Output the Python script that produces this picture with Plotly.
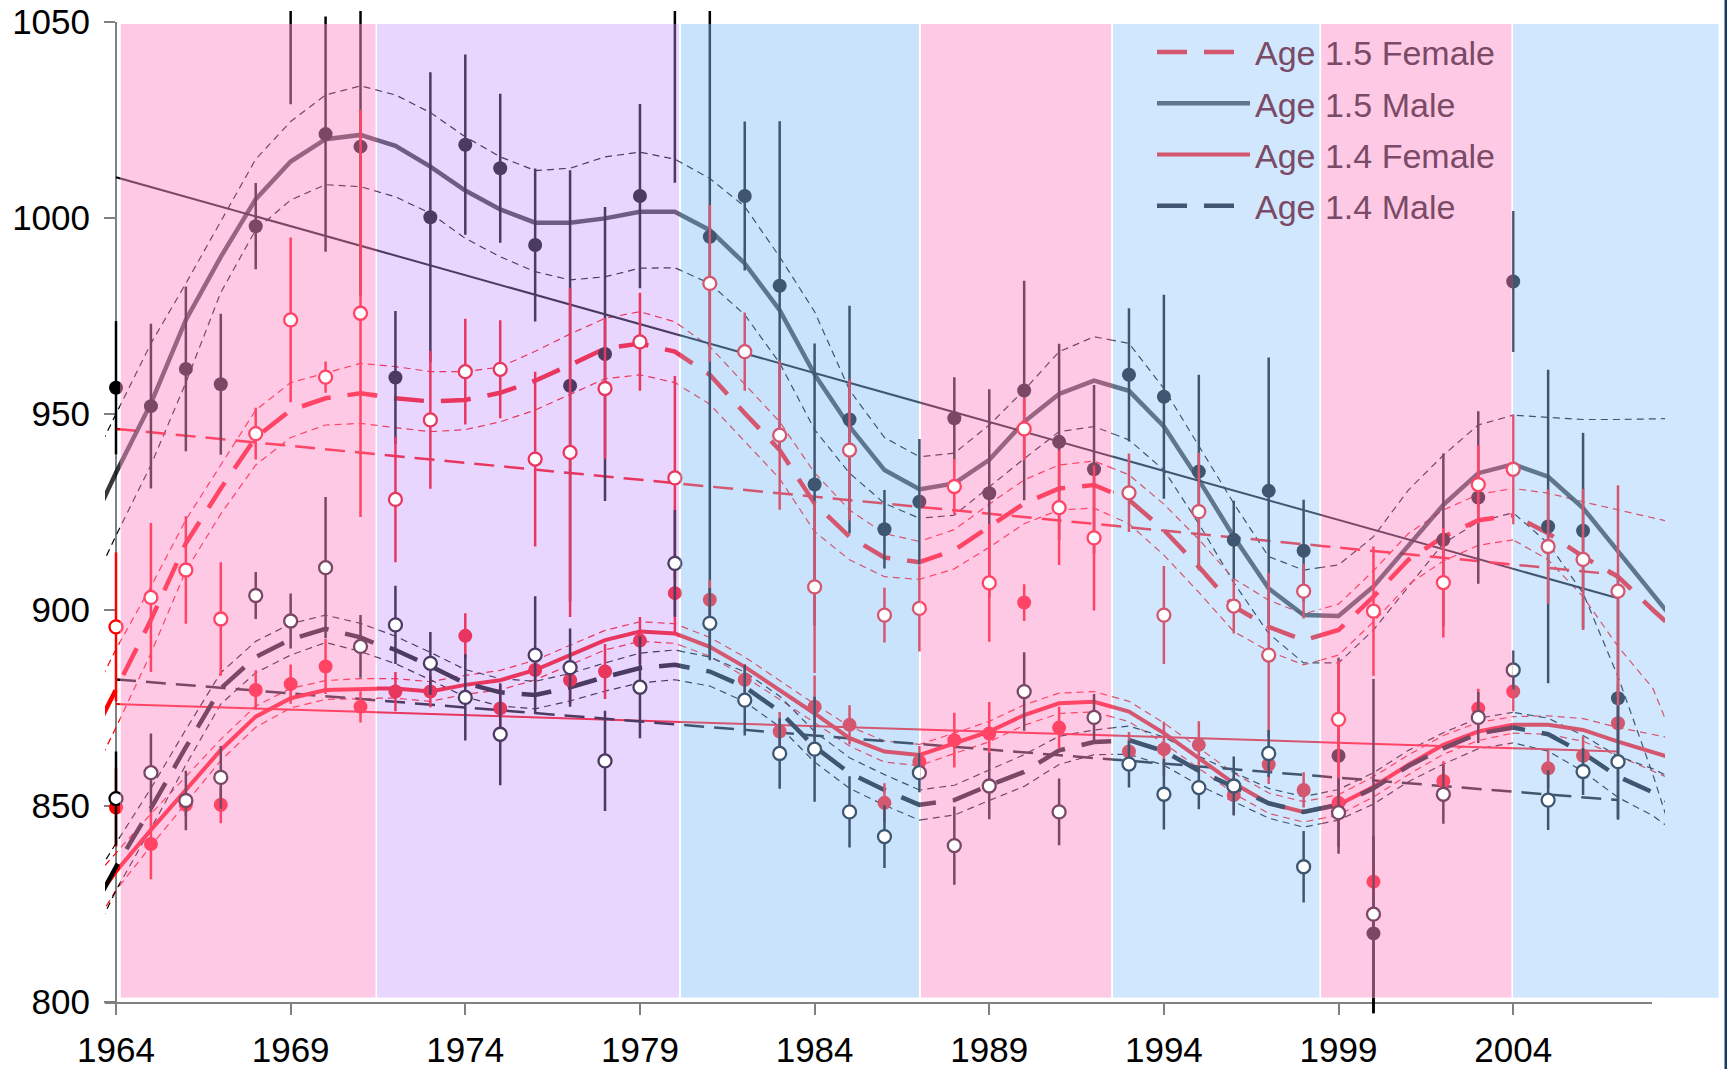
import plotly.graph_objects as go

# ------------------------------------------------------------------ data
CURVE_YEARS = list(range(1963, 2010))

m15_curve = [916, 935, 952.7, 974, 990.1, 1004.8, 1014.4, 1020.1, 1021.2, 1018.4,
             1013.1, 1007, 1002.2, 998.8, 998.8, 999.9, 1001.6, 1001.6, 996.9, 988.4,
             976.5, 960.1, 946.8, 935.7, 930.8, 932.3, 938.3, 948, 955.1, 958.5,
             955.9, 946.8, 933.2, 918.7, 905.5, 898.7, 898.5, 906, 916.2, 926.8,
             934.9, 937.2, 934, 926, 914.9, 904, 893]
m15_upper = [932, 950, 968, 983.3, 999, 1015, 1024.6, 1031.4, 1033.7, 1031.4,
             1026.9, 1020.7, 1015.6, 1012.1, 1012.7, 1015.6, 1016.8, 1015, 1010.1, 1002.9,
             990.1, 976.1, 956.1, 944, 939.1, 940, 947.2, 956.1, 965.9, 969.7,
             968, 956.5, 941.7, 927.2, 913.6, 910.2, 911.5, 918.7, 930.6, 939.5,
             947.2, 949.7, 949.2, 948.6, 948.6, 948.9, 948.9]
m15_lower = [900, 919, 937, 958, 981, 997, 1004.6, 1008.5, 1008, 1005.4,
             1001.2, 994.8, 990.1, 986.3, 984.2, 985, 987.2, 987.3, 983.3, 975.3,
             963, 946, 934.9, 927.2, 923.4, 924.2, 931.4, 938.6, 945.5, 946.8,
             943.4, 935.7, 922, 907, 894, 886.5, 886.5, 894.9, 906, 917,
             922.5, 924.8, 917, 904.3, 883, 858, 830]

f15_curve = [862, 880, 897.5, 917, 931, 944, 951, 954, 955.3, 954,
             953.2, 953.6, 955.4, 958.5, 962.5, 966.7, 968, 965.9, 960, 950.2,
             940.8, 927.2, 918.7, 913.4, 912.2, 915.3, 921.3, 927.2, 931, 931.9,
             928.1, 920.4, 911, 900.9, 895.7, 892.3, 894.9, 903.4, 912.8, 918.7,
             922.9, 924.2, 919.6, 913.6, 908.5, 900, 892]
f15_upper = [872, 890, 906, 923, 937, 951, 958, 960.4, 962.9, 962.1,
             960.8, 960.8, 962, 966, 970.4, 974.4, 976.1, 973.5, 967.2, 957.5,
             948, 935, 925.5, 919.5, 917.5, 920.5, 927, 933.2, 937, 938,
             934.5, 927, 918, 908, 902.5, 899, 901.5, 910, 919.5, 925.5,
             929.5, 931, 929.8, 927.6, 925.5, 923.5, 921.5]
f15_lower = [852, 870, 889, 910, 924.5, 937, 944, 947.2, 947.6, 946.5,
             945.5, 946, 948, 951, 955, 959, 960, 958, 952.5, 943,
             933.5, 920, 912.8, 908.5, 907.8, 910.5, 916, 922, 925.5, 926,
             922, 914, 904.5, 894.5, 889.5, 886, 888.5, 897, 906.5, 912.5,
             916.5, 917.9, 912.8, 903.4, 890.7, 880, 858]

f14_curve = [821, 833.3, 843.9, 854.1, 864.3, 872.8, 877.5, 879.6, 880, 880,
             879.2, 880.9, 882.1, 884.7, 888.5, 892.3, 894.5, 894, 890.6, 885.5,
             879.6, 873.6, 867.3, 863.9, 863, 866, 869, 873.2, 876.2, 876.6,
             874.1, 868.6, 862.2, 855.8, 850.7, 848.5, 850.3, 854.9, 860.5, 865.6,
             869, 870.7, 870.7, 869.4, 866.4, 863.7, 861]
f14_upper = [828, 838, 848, 857.5, 867, 875.5, 880, 882, 882.5, 882.5,
             881.7, 883.3, 884.6, 887.2, 891, 894.8, 897, 896.5, 893, 888,
             882, 876, 870.3, 866.6, 865.7, 868.6, 871.6, 875.8, 878.8, 879.2,
             876.7, 871.2, 864.8, 858.4, 853.3, 851.1, 852.9, 857.5, 863, 868,
             871.3, 872.8, 873, 872.3, 870, 868.2, 866.5]
f14_lower = [814, 828.5, 839.8, 850.7, 861.6, 870.1, 875, 877.2, 877.5, 877.5,
             876.7, 878.5, 879.6, 882.2, 886, 889.8, 892, 891.5, 888.2, 883,
             877.2, 871.2, 865.3, 861.2, 860.3, 863.4, 866.4, 870.6, 873.6, 874,
             871.5, 866, 859.6, 853.2, 848.1, 845.9, 847.7, 852.3, 858, 863.2,
             866.7, 868.6, 868.3, 866.5, 862.8, 859, 855]

m14_curve = [818, 834.5, 849.4, 865, 880, 888, 892.5, 895.2, 893, 889.8,
             885.7, 881.3, 879, 878.3, 880.3, 882.9, 885.2, 886, 884.3, 880.4,
             874.1, 865.1, 858.4, 854.1, 850.3, 851.5, 855.3, 858.7, 864.2, 866.3,
             866.8, 864, 859, 854.9, 850.7, 848.5, 850.3, 854.5, 860.2, 864.7,
             868.5, 870, 868.3, 863.5, 857.5, 853.5, 848]
m14_upper = [826, 840.5, 854.5, 869.5, 884, 892, 896.5, 898.7, 896.6, 893.3,
             889.2, 884.8, 882.5, 881.8, 883.8, 886.5, 889, 889.8, 888, 884.2,
             878, 869, 862.3, 858, 854.1, 855.3, 859.2, 863.1, 867.8, 869.4,
             870.4, 867.6, 862.7, 858.6, 854.5, 852.4, 854.2, 858.5, 864.2, 868.7,
             872.4, 873.9, 872.4, 868, 862.7, 859.5, 855]
m14_lower = [810, 828.5, 844.3, 860.5, 876, 884, 888.5, 891.7, 889.4, 886.3,
             882.2, 877.8, 875.5, 874.8, 876.8, 879.3, 881.4, 882.2, 880.6, 876.6,
             870.2, 861.2, 854.5, 850.2, 846.4, 847.7, 851.4, 855, 860.6, 863.1,
             863.2, 860.4, 855.3, 851.2, 846.9, 844.6, 846.4, 850.5, 856.2, 860.7,
             864.6, 866.1, 864, 858.8, 852.2, 847.5, 841]

TREND_YEARS = [1964, 2007]
m15_trend = [1010.4, 903.0]
f15_trend = [946.2, 909.0]
f14_trend = [876.0, 863.9]
m14_trend = [882.3, 851.5]

PT_YEARS = list(range(1964, 2001)) + list(range(2002, 2008))
PT_YEARS_F14 = list(range(1964, 1992)) + list(range(1993, 2001)) + list(range(2002, 2008))

m15_pts = [956.7, 952, 961.5, 957.6, 997.9, 1062, 1021.4, 1018.2, 959.3, 1000.2,
           1018.7, 1012.7, 993.1, 957.2, 965.3, 1005.6, 1056, 995.2, 1005.6, 982.7,
           932, 948.6, 920.6, 927.6, 948.9, 929.8, 956, 942.9, 935.9, 960,
           954.4, 935.3, 917.9, 930.4, 915.1, 862.8, 817.5,
           917.9, 928.7, 983.8, 921.3, 920.2, 877.5]
m15_err = [17, 21, 21, 18, 11, 33, 30, 38, 17, 37,
           23, 19, 19.5, 55, 37.5, 23.5, 47, 108, 19, 42,
           36, 29, 10, 16, 10.5, 26.5, 28, 25, 21.5, 17,
           26, 24.7, 10, 34, 13, 25, 25,
           22, 22, 18, 40, 25, 31]

f15_pts = [895.7, 903.2, 910.2, 897.7, 945, 974, 959.4, 975.7, 928.2, 948.5,
           960.8, 961.4, 938.5, 940.2, 956.5, 968.4, 933.7, 983.3, 965.9, 944.6,
           905.9, 940.8, 898.7, 900.4, 931.5, 906.9, 946.2, 926.1, 918.4, 929.9,
           898.7, 925.1, 901, 888.5, 904.8, 872.1, 899.7,
           907, 932, 935.9, 916.2, 912.9, 904.8]
f15_err = [19, 19, 13.7, 14.5, 6.6, 21, 4, 52, 16, 17.6,
           13.5, 12.5, 22.3, 42, 18, 12.5, 26, 20, 10, 19,
           22, 18, 7, 11, 7, 15, 8, 14.6, 18.5, 10,
           12.5, 15, 7, 21, 7, 15, 16.5,
           14, 10, 14, 14.6, 18, 27]

f14_pts = [849.6, 840.3, 850.3, 850.3, 879.6, 881.1, 885.6, 875.3, 879.2, 879.2,
           893.4, 874.9, 884.7, 882.1, 884.3, 892.2, 904.3, 902.6, 882.2, 869,
           875.3, 870.7, 850.8, 861.3, 866.8, 868.5, 901.9, 870,
           863.9, 864.5, 865.6, 852.8, 860.6, 854.1, 850.8, 830.7,
           856.4, 874.9, 879.2, 859.6, 862.8, 871.1]
f14_err = [10, 9, 3, 4.7, 5, 5, 7, 4, 5, 4,
           5.8, 6, 5, 6, 7, 6, 10, 5, 4, 5,
           8, 5, 5, 4, 7, 8, 4.7, 5.3,
           5, 7, 6, 5, 5, 4.5, 5, 4,
           5, 5, 5, 5, 5, 10]

m14_pts = [851.9, 858.5, 851.4, 857.3, 903.7, 897.2, 910.8, 890.7, 896.2, 886.4,
           877.7, 868.3, 888.5, 885.3, 861.5, 880.3, 911.9, 896.6, 877, 863.4,
           864.5, 848.5, 842.2, 858.5, 839.9, 855.1, 879.2, 848.5, 872.6, 860.7,
           853, 854.7, 855.1, 863.4, 834.5, 848.3, 822.4,
           853, 872.6, 884.7, 851.5, 858.8, 861.3]
m14_err = [12, 10, 7.6, 8, 6, 7, 18, 8, 10, 8,
           11, 13, 15, 10, 12.8, 13, 13.6, 9, 9, 9,
           13.4, 9.1, 8, 5, 10, 8.5, 10, 8.5, 6, 6,
           9, 5.5, 7.5, 6, 9.1, 8.7, 60,
           7.5, 6.5, 5, 7.6, 6, 14.4]

# background eras (years)
ERA_START = [1964.13, 1971.47, 1980.17, 1987.04, 1992.54, 1998.50, 2003.99]
ERA_END = [1971.43, 1980.12, 1986.99, 1992.49, 1998.45, 2003.95, 2009.88]

LEGEND_NAMES = ["Age 1.5 Female", "Age 1.5 Male", "Age 1.4 Female", "Age 1.4 Male"]
X_TICKS = [1964, 1969, 1974, 1979, 1984, 1989, 1994, 1999, 2004]
Y_TICKS = [800, 850, 900, 950, 1000, 1050]

# ------------------------------------------------------------------ styles
W, H = 1727, 1069
FONT = "Liberation Sans, Arial, sans-serif"
ERA_BG = ['#fec9e4', '#e9d6fe', '#c9e3fc', '#fec9e4', '#d1e7fd', '#fec9e4', '#d1e7fd']
ERA_MALE = ['#7a4865', '#4b3a62', '#3f5670', '#7a4865', '#3f5670', '#7a4865', '#3f5670']
ERA_FEMALE = ['#ff4466', '#e8365f', '#d4566f', '#ff4466', '#d4566f', '#ff4466', '#d4566f']
PURE_MALE, PURE_FEMALE = '#000000', '#ff0000'
LEGEND_ERA = 4

# pixel calibration of the reference
X_PX0, X_YR0, X_PPY = 116.0, 1964.0, 34.93
Y_PX0, Y_V0, Y_PPV = 22.0, 1050.0, 3.92


def yr(px):
    return X_YR0 + (px - X_PX0) / X_PPY


def val(py):
    return Y_V0 - (py - Y_PX0) / Y_PPV


def pxr(year):
    return X_PX0 + (year - X_YR0) * X_PPY


def xdom(p0, p1):
    return [p0 / W, p1 / W], [yr(p0), yr(p1)]


def ydom(q0, q1):
    return [1 - q1 / H, 1 - q0 / H], [val(q1), val(q0)]


fig = go.Figure()
layout_axes = {}
shapes = []

# frame subplot (visible axes)
fig.add_trace(go.Scatter(x=[], y=[], xaxis='x', yaxis='y', showlegend=False, hoverinfo='skip'))
fxd, fxr = xdom(105, 1651.7)
fyd, _ = ydom(22, 1002)
axis_common = dict(showline=True, linecolor='#808080', linewidth=2, ticks='outside', ticklen=11,
                   tickwidth=2, tickcolor='#808080', showgrid=False, zeroline=False,
                   automargin=False,
                   tickfont=dict(family=FONT, size=35, color='black'), fixedrange=True)
layout_axes['xaxis'] = dict(domain=fxd, range=fxr, anchor='y', tickvals=X_TICKS,
                            ticktext=[str(t) for t in X_TICKS], ticklabelstandoff=5,
                            **axis_common)
layout_axes['yaxis'] = dict(domain=fyd, range=[800, 1050], anchor='free', position=116 / W,
                            tickvals=Y_TICKS, ticktext=[str(t) for t in Y_TICKS],
                            ticklabelstandoff=7, **axis_common)


def add_layer(n, male, female, legend=False):
    xa, ya = 'x%d' % n, 'y%d' % n
    bands = [(m15_upper, male), (m15_lower, male), (f15_upper, female), (f15_lower, female),
             (f14_upper, female), (f14_lower, female), (m14_upper, male), (m14_lower, male)]
    for vals, col in bands:
        fig.add_trace(go.Scatter(x=CURVE_YEARS, y=vals, mode='lines', xaxis=xa, yaxis=ya,
                                 line=dict(color=col, width=1.2, dash='7px,5px'),
                                 showlegend=False, hoverinfo='skip'))
    trends = [(m15_trend, male, 'solid', 2), (f15_trend, female, '20px,10px', 2.5),
              (f14_trend, female, 'solid', 2), (m14_trend, male, '20px,10px', 2.5)]
    for vals, col, dash, wd in trends:
        fig.add_trace(go.Scatter(x=TREND_YEARS, y=vals, mode='lines', xaxis=xa, yaxis=ya,
                                 line=dict(color=col, width=wd, dash=dash),
                                 showlegend=False, hoverinfo='skip'))
    curves = [(f15_curve, female, '30px,17px', 4.5, 1.0, 0),
              (m15_curve, male, 'solid', 4.5, 0.78, 1),
              (f14_curve, female, 'solid', 4.0, 1.0, 2),
              (m14_curve, male, '30px,17px', 4.5, 1.0, 3)]
    for vals, col, dash, wd, op, k in curves:
        fig.add_trace(go.Scatter(x=CURVE_YEARS, y=vals, mode='lines', xaxis=xa, yaxis=ya,
                                 line=dict(color=col, width=wd, dash=dash), opacity=op,
                                 name=LEGEND_NAMES[k], legendgroup='g%d' % k, legendrank=k + 1,
                                 showlegend=legend, hoverinfo='skip'))
    pts = [(PT_YEARS, m15_pts, m15_err, male, True),
           (PT_YEARS, f15_pts, f15_err, female, False),
           (PT_YEARS_F14, f14_pts, f14_err, female, True),
           (PT_YEARS, m14_pts, m14_err, male, False)]
    for xs, vals, errs, col, filled in pts:
        if filled:
            mk = dict(size=14, color=col, line=dict(width=0))
        else:
            mk = dict(size=13, color='white', line=dict(width=2.3, color=col))
        fig.add_trace(go.Scatter(x=xs, y=vals, mode='markers', xaxis=xa, yaxis=ya, marker=mk,
                                 error_y=dict(type='data', array=errs, visible=True, color=col,
                                              thickness=2.5, width=0),
                                 showlegend=False, hoverinfo='skip'))


# pure (untinted) layer
pxd, pxrg = xdom(105, 1665)
pyd, pyrg = ydom(11, 1013.3)
layout_axes['xaxis2'] = dict(domain=pxd, range=pxrg, visible=False, anchor='y2', fixedrange=True)
layout_axes['yaxis2'] = dict(domain=pyd, range=pyrg, visible=False, anchor='x2', fixedrange=True)
add_layer(2, PURE_MALE, PURE_FEMALE)

# tinted era layers
eyd, eyrg = ydom(24, 997.7)
for k in range(len(ERA_START)):
    n = k + 3
    p0 = pxr(ERA_START[k])
    p1 = pxr(ERA_START[k + 1]) if k + 1 < len(ERA_START) else 1665
    exd, exrg = xdom(p0, p1)
    layout_axes['xaxis%d' % n] = dict(domain=exd, range=exrg, visible=False, anchor='y%d' % n,
                                      fixedrange=True)
    layout_axes['yaxis%d' % n] = dict(domain=eyd, range=eyrg, visible=False, anchor='x%d' % n,
                                      fixedrange=True)
    shapes.append(dict(type='rect', xref='x%d' % n, yref='y%d' % n, layer='below',
                       x0=exrg[0], x1=exrg[1], y0=eyrg[0], y1=eyrg[1],
                       fillcolor='white', line=dict(width=0)))
    shapes.append(dict(type='rect', xref='x%d' % n, yref='y%d' % n, layer='below',
                       x0=ERA_START[k], x1=min(ERA_END[k], exrg[1]), y0=eyrg[0], y1=eyrg[1],
                       fillcolor=ERA_BG[k], line=dict(width=0)))
    add_layer(n, ERA_MALE[k], ERA_FEMALE[k], legend=(k == LEGEND_ERA))

# last era background continues past the clipped data area
shapes.append(dict(type='rect', xref='paper', yref='paper', layer='below',
                   x0=1600 / W, x1=pxr(ERA_END[-1]) / W, y0=eyd[0], y1=eyd[1],
                   fillcolor=ERA_BG[-1], line=dict(width=0)))
shapes.append(dict(type='rect', xref='paper', yref='paper', layer='below',
                   x0=1724.5 / W, x1=1, y0=0, y1=1, fillcolor='#173a66', line=dict(width=0)))

fig.update_layout(
    template='none',
    width=W, height=H, margin=dict(l=0, r=0, t=0, b=0, autoexpand=False),
    paper_bgcolor='white', plot_bgcolor='rgba(0,0,0,0)',
    hovermode=False, shapes=shapes,
    showlegend=True,
    legend=dict(x=1152 / W, y=1 - 23.5 / H, xanchor='left', yanchor='top',
                bgcolor='rgba(0,0,0,0)', borderwidth=0, traceorder='grouped',
                tracegroupgap=4, itemwidth=93,
                font=dict(family=FONT, size=34, color='#7a4a66')),
    **layout_axes,
)

fig.write_html("out.html", include_plotlyjs=True, full_html=True,
               config={'displayModeBar': False, 'staticPlot': True},
               post_script="document.body.style.margin='0px';document.body.style.overflow='hidden';")
